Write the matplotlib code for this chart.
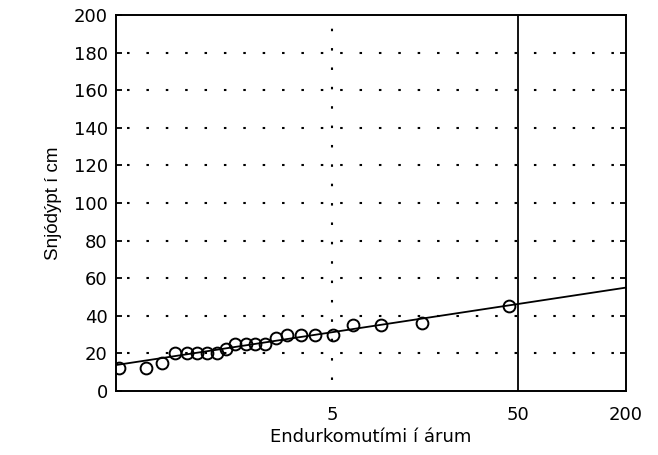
import numpy as np
import matplotlib.pyplot as plt

plt.rcParams['font.family'] = ['DejaVu Sans']

# return period (years) and observed annual max snow depth (cm)
return_period = [1.030, 1.090, 1.154, 1.221, 1.299, 1.379, 1.474, 1.585, 1.704,
                 1.840, 2.016, 2.203, 2.424, 2.698, 3.033, 3.499, 4.10, 5.01,
                 6.39, 8.90, 14.8, 44.2]
snow_depth = [12, 12, 15, 20, 20, 20, 20, 20, 22.5, 25, 25, 25, 25, 28,
              30, 30, 30, 30, 35, 35, 36, 45]

# fitted Gumbel line, end points
fit_period = [1.0262, 200]
fit_depth = [13.8, 55]

xticks = [5, 50, 200]
yticks = list(range(0, 201, 20))


def gumbel_fwd(t):
    t = np.asarray(t, dtype=float)
    with np.errstate(divide='ignore', invalid='ignore'):
        return -np.log(-np.log(1.0 - 1.0 / t))


def gumbel_inv(u):
    u = np.asarray(u, dtype=float)
    return 1.0 / (1.0 - np.exp(-np.exp(-u)))


fig = plt.figure(figsize=(6.58, 4.55), dpi=100)
ax = fig.add_axes([0.1763, 0.1407, 0.7751, 0.8263])
ax.set_xscale('function', functions=(gumbel_fwd, gumbel_inv))
ax.set_xlim(fit_period[0], fit_period[1])
ax.set_ylim(0, 200)

# dotted horizontal grid, dotted line at 5 years, solid line at 50 years
dots = (4, (1.2, 8.1))
for y in yticks[1:-1]:
    ax.axhline(y, color='black', lw=1.5, ls=dots, zorder=1)
ax.axvline(5, color='black', lw=1.5, ls=dots, zorder=1)
ax.axvline(50, color='black', lw=1.3, zorder=1)

ax.plot(fit_period, fit_depth, color='black', lw=1.3, zorder=2)
ax.plot(return_period, snow_depth, 'o', ms=8.5, mfc='none', mec='black',
        mew=1.4, zorder=3)

ax.set_xticks(xticks)
ax.set_xticklabels([str(t) for t in xticks])
ax.xaxis.set_minor_locator(plt.NullLocator())
ax.set_yticks(yticks)
ax.tick_params(axis='x', length=0, pad=11, labelsize=13)
ax.tick_params(axis='y', direction='in', length=4, width=1.3, right=True,
               labelsize=13, pad=6)
for s in ax.spines.values():
    s.set_linewidth(1.4)

ax.set_xlabel('Endurkomutími í árum', fontsize=13, labelpad=3)
ax.set_ylabel('Snjódýpt í cm', fontsize=13.5, family='Liberation Sans',
              labelpad=8)

fig.savefig('out.png', dpi=100, facecolor='white')
